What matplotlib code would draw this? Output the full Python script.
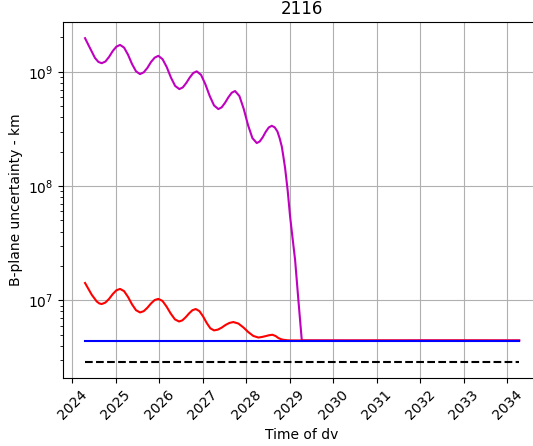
import matplotlib
matplotlib.use("Agg")
import matplotlib.pyplot as plt

# magenta curve (time of dv in years, uncertainty in km)
t_mag = [2024.292, 2024.407, 2024.522, 2024.60, 2024.676,
         2024.760, 2024.844, 2024.929, 2025.013, 2025.097,
         2025.189, 2025.281, 2025.372, 2025.464, 2025.556,
         2025.640, 2025.724, 2025.809, 2025.893, 2025.977,
         2026.074, 2026.170, 2026.267, 2026.363, 2026.46,
         2026.54, 2026.62, 2026.70, 2026.78, 2026.86,
         2026.959, 2027.058, 2027.158, 2027.257, 2027.356,
         2027.433, 2027.510, 2027.586, 2027.663, 2027.74,
         2027.840, 2027.940, 2028.039, 2028.139, 2028.239,
         2028.308, 2028.377, 2028.446, 2028.515, 2028.584,
         2028.65, 2028.713, 2028.764, 2028.814, 2028.85, 2028.89,
         2028.95, 2029.005, 2029.06, 2029.12, 2029.195, 2029.274,
         2030.0, 2031.0, 2032.0, 2033.0, 2034.27]
v_mag = [1.97e9, 1.61e9, 1.32e9, 1.22e9, 1.19e9,
         1.23e9, 1.35e9, 1.52e9, 1.66e9, 1.72e9,
         1.63e9, 1.41e9, 1.17e9, 1.01e9, 9.55e8,
         9.89e8, 1.08e9, 1.22e9, 1.33e9, 1.38e9,
         1.29e9, 1.10e9, 8.9e8, 7.53e8, 7.06e8,
         7.31e8, 8.0e8, 8.93e8, 9.77e8, 1.01e9,
         9.4e8, 7.78e8, 6.14e8, 5.08e8, 4.72e8,
         4.89e8, 5.36e8, 5.98e8, 6.56e8, 6.79e8,
         6.14e8, 4.73e8, 3.41e8, 2.63e8, 2.38e8,
         2.46e8, 2.68e8, 2.99e8, 3.26e8, 3.37e8,
         3.27e8, 3.01e8, 2.63e8, 2.22e8, 1.82e8, 1.44e8,
         9.1e7, 5.42e7, 3.55e7, 2.26e7, 1.01e7, 4.46e6,
         4.46e6, 4.45e6, 4.47e6, 4.46e6, 4.46e6]

# red curve
t_red = [2024.292, 2024.446, 2024.561, 2024.62, 2024.676,
         2024.760, 2024.844, 2024.929, 2025.013, 2025.097,
         2025.189, 2025.281, 2025.372, 2025.464, 2025.556,
         2025.640, 2025.724, 2025.809, 2025.893, 2025.977,
         2026.072, 2026.167, 2026.263, 2026.358, 2026.453,
         2026.530, 2026.607, 2026.683, 2026.760, 2026.837,
         2026.921, 2027.005, 2027.089, 2027.173, 2027.257,
         2027.346, 2027.435, 2027.523, 2027.612, 2027.701,
         2027.816, 2027.931, 2028.046, 2028.161, 2028.276,
         2028.356, 2028.437, 2028.518, 2028.598,
         2028.67, 2028.736, 2028.80, 2028.851, 2028.93, 2029.005,
         2030.0, 2031.0, 2032.0, 2033.0, 2034.27]
v_red = [1.42e7, 1.12e7, 9.78e6, 9.4e6, 9.29e6,
         9.57e6, 1.03e7, 1.135e7, 1.225e7, 1.26e7,
         1.205e7, 1.07e7, 9.23e6, 8.2e6, 7.84e6,
         8.04e6, 8.61e6, 9.4e6, 1.007e7, 1.03e7,
         9.89e6, 8.81e6, 7.65e6, 6.82e6, 6.53e6,
         6.69e6, 7.13e6, 7.69e6, 8.2e6, 8.4e6,
         8.05e6, 7.24e6, 6.34e6, 5.69e6, 5.46e6,
         5.55e6, 5.78e6, 6.10e6, 6.35e6, 6.46e6,
         6.27e6, 5.80e6, 5.27e6, 4.88e6, 4.73e6,
         4.78e6, 4.86e6, 4.95e6, 5.0e6,
         4.88e6, 4.68e6, 4.57e6, 4.52e6, 4.48e6, 4.46e6,
         4.45e6, 4.46e6, 4.45e6, 4.46e6, 4.45e6]

# blue and black reference levels
t_ref = [2024.292, 2034.27]
v_blue = [4.42e6, 4.42e6]
v_black = [2.9e6, 2.9e6]

years = list(range(2024, 2035))

fig = plt.figure(figsize=(5.33, 4.46), dpi=100)
ax = fig.add_axes([0.1188, 0.1525, 0.896, 0.7982])

ax.plot(t_mag, v_mag, color="m")
ax.plot(t_red, v_red, color="r")
ax.plot(t_ref, v_blue, color="b")
ax.plot(t_ref, v_black, "k--")

ax.set_yscale("log")
ax.set_xticks(years)
ax.set_xticklabels([str(y) for y in years], rotation=45)
ax.grid(True)

ax.set_title("2116")
ax.set_xlabel("Time of dv")
ax.set_ylabel("B-plane uncertainty - km")

plt.savefig("out.png", dpi=100)
